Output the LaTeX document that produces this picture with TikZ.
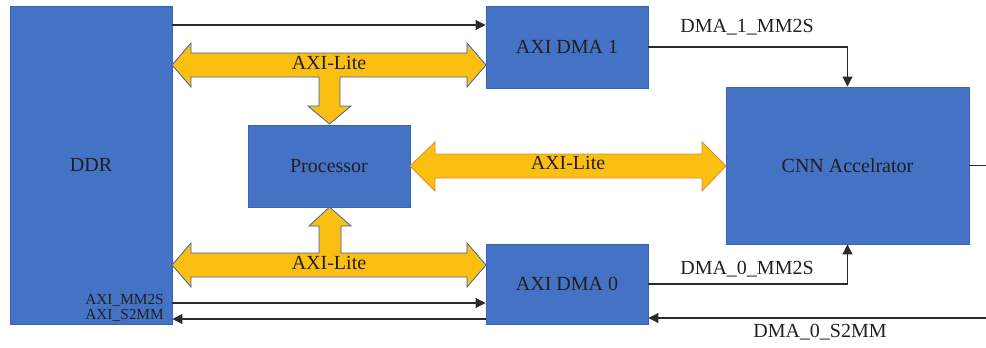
\documentclass[tikz,border=0pt]{standalone}
\usepackage{fontspec}
\setmainfont{Liberation Serif}
\usetikzlibrary{arrows.meta}
\definecolor{boxblue}{HTML}{4472C4}
\definecolor{boxedge}{HTML}{3A64AE}
\definecolor{busgold}{HTML}{FBBF12}
\definecolor{busorange}{HTML}{DF8A2E}
\definecolor{ink}{HTML}{231F20}
\definecolor{wire}{HTML}{2B2B2B}
\begin{document}
\begin{tikzpicture}[x=0.75pt,y=-0.75pt,
  box/.style={draw=boxedge,line width=0.7pt,fill=boxblue,inner sep=0pt,
    text=ink,font=\fontsize{15}{18}\selectfont},
  wh/.style 2 args={minimum width=#1*0.75pt,minimum height=#2*0.75pt},
  bus/.style={fill=busgold,draw=boxedge,line width=0.6pt,line join=miter},
  buslabel/.style={text=ink,font=\fontsize{15}{18}\selectfont,inner sep=0pt},
  ln/.style={draw=wire,line width=0.8pt,-{Triangle[length=7.5pt,width=7.5pt]}},
  plain/.style={draw=wire,line width=0.8pt},
  sig/.style={text=ink,font=\fontsize{15}{18}\selectfont,inner sep=0pt},
  smallsig/.style={text=ink,font=\fontsize{11.5}{12}\selectfont,inner sep=0pt,anchor=east}]
\useasboundingbox (0,0) rectangle (986,347);

% blocks
\node[box,wh={162}{318}] (ddr)  at (91,165)     {DDR};
\node[box,wh={162}{82}]  (dma1) at (567,47)     {AXI DMA 1};
\node[box,wh={162}{80}]  (dma0) at (567,284)    {AXI DMA 0};
\node[box,wh={162}{82}]  (proc) at (329,166)    {Processor};
\node[box,wh={243}{157}] (cnn)  at (847.5,165.5) {CNN Accelrator};

% upper AXI-Lite bus with branch down to the processor
\path[bus] (172,65) -- (191,43) -- (191,53) -- (467,53) -- (467,43) -- (486,65)
  -- (467,87) -- (467,77) -- (340,77) -- (340,106) -- (351,106) -- (329.5,124)
  -- (308,106) -- (319,106) -- (319,77) -- (191,77) -- (191,87) -- cycle;
\node[buslabel] (litetop) at (329,63) {AXI-Lite};

% lower AXI-Lite bus with branch up to the processor
\path[bus] (172,265) -- (191,243) -- (191,253) -- (319,253) -- (319,226)
  -- (309,226) -- (329.5,207) -- (351,226) -- (341,226) -- (341,253)
  -- (467,253) -- (467,243) -- (486,265) -- (467,287) -- (467,277)
  -- (191,277) -- (191,287) -- cycle;
\node[buslabel] (litebot) at (329,263) {AXI-Lite};

% AXI-Lite link between processor and accelerator
\path[bus,draw=busorange] (410,166) -- (435,142) -- (435,154) -- (702,154)
  -- (702,142) -- (726,166) -- (702,191) -- (702,178) -- (435,178)
  -- (435,191) -- cycle;
\node[buslabel] (litemid) at (568,163) {AXI-Lite};

% helper coordinates
\coordinate (ytop) at (0,25);
\coordinate (ymm)  at (0,303);
\coordinate (ys2)  at (0,319);
\coordinate (s2in) at (986,318);
\coordinate (cout) at (986,165.5);

% data connections
\draw[ln] (ddr.east |- ytop) -- (dma1.west |- ytop);
\draw[ln] (ddr.east |- ymm) -- (dma0.west |- ymm);
\draw[ln] (dma0.west |- ys2) -- (ddr.east |- ys2);
\draw[ln] (dma1.east) -| (cnn.north);
\draw[ln] (dma0.east) -| (cnn.south);
\draw[ln] (s2in) -- (s2in -| dma0.east);
\draw[plain] (cnn.east) -- (cout);

% signal labels
\node[sig] (l1) at (747,27)  {DMA\_1\_MM2S};
\node[sig] (l0) at (747,269) {DMA\_0\_MM2S};
\node[sig] (ls) at (820,332) {DMA\_0\_S2MM};
\node[smallsig] (lm) at (164,300) {AXI\_MM2S};
\node[smallsig] (lsm) at (164,315) {AXI\_S2MM};
\end{tikzpicture}
\end{document}
